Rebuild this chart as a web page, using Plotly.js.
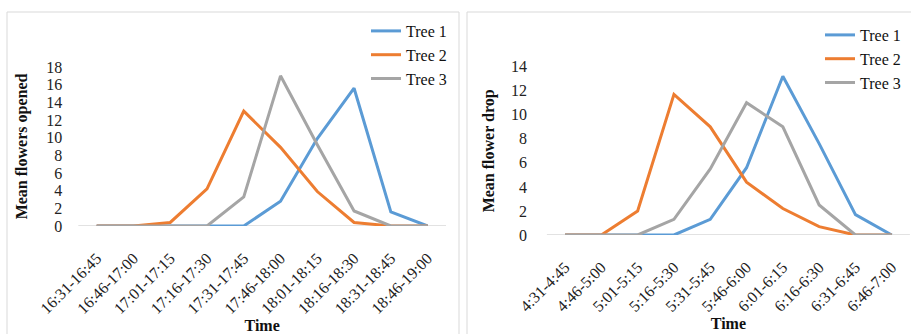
<!DOCTYPE html>
<html>
<head>
<meta charset="utf-8">
<script src="https://cdn.plot.ly/plotly-3.0.1.min.js"></script>
<style>
  html, body { margin: 0; padding: 0; background: #fff; }
  #chart { width: 911px; height: 334px; }
</style>
</head>
<body>
<div id="chart"></div>
<script>
// Evening opening (left) and early-morning drop (right), 15-minute intervals
const openTimes = ['16:31-16:45','16:46-17:00','17:01-17:15','17:16-17:30','17:31-17:45',
                   '17:46-18:00','18:01-18:15','18:16-18:30','18:31-18:45','18:46-19:00'];
const openTree1 = [0, 0, 0, 0, 0, 2.8, 9.9, 15.6, 1.6, 0];
const openTree2 = [0, 0, 0.4, 4.2, 13.0, 8.9, 3.9, 0.4, 0, 0];
const openTree3 = [0, 0, 0, 0, 3.3, 17.0, 9.2, 1.7, 0, 0];

const dropTimes = ['4:31-4:45','4:46-5:00','5:01-5:15','5:16-5:30','5:31-5:45',
                   '5:46-6:00','6:01-6:15','6:16-6:30','6:31-6:45','6:46-7:00'];
const dropTree1 = [0, 0, 0, 0, 1.3, 5.6, 13.2, 7.6, 1.7, 0];
const dropTree2 = [0, 0, 2.0, 11.7, 9.0, 4.4, 2.2, 0.7, 0, 0];
const dropTree3 = [0, 0, 0, 1.3, 5.5, 11.0, 9.0, 2.5, 0, 0];

const treeNames = ['Tree 1', 'Tree 2', 'Tree 3'];
const treeColors = ['#5B9BD5', '#ED7D31', '#A5A5A5'];

const W = 911, H = 334;
const px = v => v / W;           // horizontal pixel -> paper fraction
const py = v => (H - v) / H;     // vertical pixel (from top) -> paper fraction

const serif = 'Liberation Serif';

function series(x, ys, xa, ya, legend) {
  return ys.map((y, i) => ({
    type: 'scatter', mode: 'lines', x: x, y: y,
    name: treeNames[i], xaxis: xa, yaxis: ya, legend: legend,
    line: { color: treeColors[i], width: 3 },
    hoverinfo: 'skip'
  }));
}

const traces = [
  ...series(openTimes, [openTree1, openTree2, openTree3], 'x', 'y', 'legend'),
  ...series(dropTimes, [dropTree1, dropTree2, dropTree3], 'x2', 'y2', 'legend2')
];

const titleFont = { family: serif, size: 16, color: '#111', weight: 'bold' };

const xCommon = {
  type: 'category', showgrid: false, zeroline: false,
  showline: false, ticks: '', tickangle: -45,
  tickfont: { family: serif, size: 16, color: '#222' },
  ticklabelstandoff: 19, automargin: false,
  title: { text: 'Time', font: titleFont, standoff: 0 }
};
const yCommon = {
  showgrid: false, zeroline: false, showline: false, ticks: '',
  tickfont: { family: serif, size: 16, color: '#222' },
  automargin: false, fixedrange: true
};

const legendCommon = {
  font: { family: serif, size: 16, color: '#111' },
  bgcolor: 'rgba(0,0,0,0)', xanchor: 'left', yanchor: 'top',
  tracegroupgap: 0
};

const layout = {
  width: W, height: H,
  font: { family: serif, color: '#222' },
  margin: { l: 0, r: 0, t: 0, b: 0 },
  paper_bgcolor: '#fff', plot_bgcolor: 'rgba(0,0,0,0)',
  xaxis: Object.assign({}, xCommon, {
    domain: [px(78.3), px(446)], range: [-0.5, 9.5], anchor: 'y'
  }),
  yaxis: Object.assign({}, yCommon, {
    domain: [py(226), py(67)], range: [0, 18], dtick: 2, anchor: 'x',
    ticklabelstandoff: 15,
    title: { text: 'Mean flowers opened', font: titleFont, standoff: 14 }
  }),
  xaxis2: Object.assign({}, xCommon, {
    domain: [px(546.9), px(909.9)], range: [-0.5, 9.5], anchor: 'y2'
  }),
  yaxis2: Object.assign({}, yCommon, {
    domain: [py(235), py(66.7)], range: [0, 14], dtick: 2, anchor: 'x2',
    ticklabelstandoff: 19,
    title: { text: 'Mean flower drop', font: titleFont, standoff: 12 }
  }),
  legend: Object.assign({}, legendCommon, { x: px(366), y: py(14) }),
  legend2: Object.assign({}, legendCommon, { x: px(820), y: py(18) }),
  shapes: [
    // panel frames
    { type: 'rect', xref: 'paper', yref: 'paper', x0: px(7), x1: px(459), y0: -0.1, y1: py(12),
      line: { color: '#D9D9D9', width: 1 } },
    { type: 'rect', xref: 'paper', yref: 'paper', x0: px(467), x1: px(930), y0: -0.1, y1: py(12),
      line: { color: '#D9D9D9', width: 1 } },
    // category axis baselines
    { type: 'line', xref: 'x domain', yref: 'y', x0: 0, x1: 1, y0: 0, y1: 0,
      line: { color: '#D9D9D9', width: 1.5 }, layer: 'below' },
    { type: 'line', xref: 'x2 domain', yref: 'y2', x0: 0, x1: 1, y0: 0, y1: 0,
      line: { color: '#D9D9D9', width: 1.5 }, layer: 'below' }
  ]
};

Plotly.newPlot('chart', traces, layout, { displayModeBar: false, staticPlot: true });
</script>
</body>
</html>
